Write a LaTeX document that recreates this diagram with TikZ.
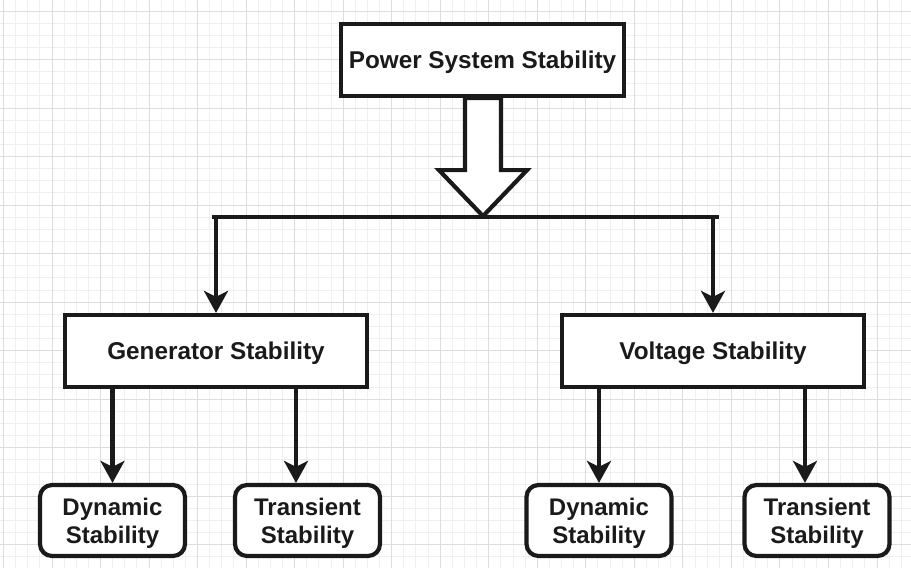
\documentclass[tikz,border=0pt]{standalone}
\usepackage{fontspec}
\setmainfont{Liberation Sans}
\usetikzlibrary{arrows.meta,calc}

\definecolor{minorgrid}{HTML}{F0F0F0}
\definecolor{majorgrid}{HTML}{DDDDDD}
\definecolor{ink}{HTML}{1A1A1A}

\tikzset{
  box/.style={draw=ink, line width=4.2pt, fill=white, minimum width=#1, minimum height=72pt,
    inner sep=0pt, text depth=0pt, text=ink, font=\fontsize{24.3}{28}\selectfont\bfseries},
  leafbox/.style={draw=ink, line width=4.2pt, fill=white, rounded corners=12pt,
    minimum width=145pt, minimum height=71pt, inner sep=0pt, text depth=0pt, align=center,
    text=ink, font=\fontsize{24}{28}\selectfont\bfseries},
  link/.style={draw=ink, line width=4.2pt},
  arr/.style={draw=ink, line width=4.2pt, -{Stealth[length=22pt,width=24pt,inset=6pt]}},
  blockarrow/.style={draw=ink, line width=4.2pt, fill=white, line join=miter},
}

\begin{document}
\begin{tikzpicture}[x=1pt, y=-1pt]
% ---- background grid ----
\fill[white] (0,0) rectangle (911,568);
\useasboundingbox (0,0) rectangle (911,568);
\foreach \i in {0,...,74} \draw[minorgrid, line width=1pt] ({3.47+12.133*\i},0) -- ++(0,568);
\foreach \j in {-1,...,46} \draw[minorgrid, line width=1pt] (0,{11+12.133*\j}) -- ++(911,0);
\foreach \i in {0,...,18} \draw[majorgrid, line width=1pt] ({3.47+48.53*\i},0) -- ++(0,568);
\foreach \j in {0,...,11} \draw[majorgrid, line width=1pt] (0,{11+48.53*\j}) -- ++(911,0);

% ---- boxes ----
\node[box=283pt] (pss) at (482.5,60) {Power System Stability};
\node[box=302pt] (gen) at (216,351) {Generator Stability};
\node[box=302pt] (volt) at (713,351) {Voltage Stability};
\node[leafbox] (gdyn) at (112.5,520.5) {Dynamic\\Stability};
\node[leafbox] (gtrans) at (307.5,520.5) {Transient\\Stability};
\node[leafbox] (vdyn) at (599,520.5) {Dynamic\\Stability};
\node[leafbox] (vtrans) at (817,520.5) {Transient\\Stability};

% ---- hollow block arrow under the top box ----
\draw[blockarrow] ([xshift=-17.5pt]pss.south) -- ++(0,72) -- ++(-26,0) -- ++(44,46)
  -- ++(44,-46) -- ++(-26,0) -- ++(0,-72) -- cycle;

% ---- split bar and connectors ----
\coordinate (barL) at (212,217);
\coordinate (barR) at (719,217);
\draw[link] (barL) -- (barR);
\draw[arr] (gen.north |- barL) -- (gen.north);
\draw[arr] (volt.north |- barL) -- (volt.north);
\draw[arr] (gdyn.north |- gen.south) -- (gdyn.north);
\draw[arr] ($(gtrans.north |- gen.south)+(-11.5,0)$) -- ($(gtrans.north)+(-11.5,0)$);
\draw[arr] (vdyn.north |- volt.south) -- (vdyn.north);
\draw[arr] ($(vtrans.north |- volt.south)+(-12,0)$) -- ($(vtrans.north)+(-12,0)$);
\end{tikzpicture}
\end{document}
